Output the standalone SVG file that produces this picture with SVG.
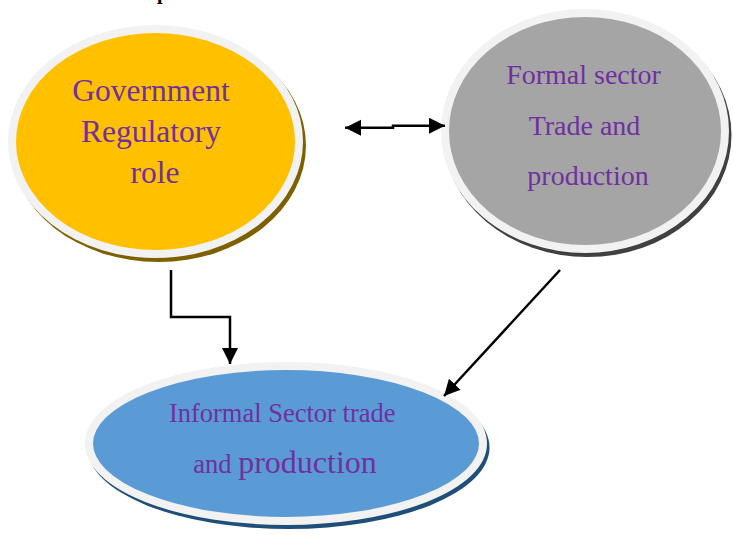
<svg xmlns="http://www.w3.org/2000/svg" width="733" height="535" viewBox="0 0 733 535">
  <style>
    .ring { stroke: #f2f2f2; stroke-width: 8; }
    .label { font-family: "Liberation Serif", "Times New Roman", serif; fill: #7030a0; text-anchor: middle; }
    .conn { fill: none; stroke: #000; stroke-width: 2.5; }
  </style>
  <defs>
    <marker id="head" markerUnits="userSpaceOnUse" markerWidth="17" markerHeight="17" refX="16" refY="8" orient="auto-start-reverse">
      <path d="M0,0 L16,8 L0,16 z" fill="#000"/>
    </marker>
  </defs>

  <rect width="733" height="535" fill="#fff"/>

  <!-- heading descender cut by the top edge -->
  <text x="157" y="-1" font-family="Liberation Serif, serif" font-weight="bold" font-size="20" fill="#000">p</text>

  <g id="government">
    <ellipse cx="158.5" cy="145.5" rx="147.5" ry="116.5" fill="#7f6000"/>
    <ellipse cx="155.5" cy="141.5" rx="143.5" ry="112.5" fill="#ffc000" class="ring"/>
    <text class="label" font-size="31.5">
      <tspan x="155" y="101">Government</tspan>
      <tspan x="155" y="142">Regulatory</tspan>
      <tspan x="155" y="183">role</tspan>
    </text>
  </g>

  <g id="formal">
    <ellipse cx="587.5" cy="135" rx="144" ry="122" fill="#404040"/>
    <ellipse cx="585" cy="131" rx="140" ry="118" fill="#a5a5a5" class="ring"/>
    <text class="label" font-size="28">
      <tspan x="587" y="84">Formal sector</tspan>
      <tspan x="588" y="135">Trade and</tspan>
      <tspan x="588" y="185">production</tspan>
    </text>
  </g>

  <g id="informal">
    <ellipse cx="288.5" cy="447.5" rx="201" ry="81.5" fill="#1f4e79"/>
    <ellipse cx="286" cy="443.5" rx="197" ry="77.5" fill="#5b9bd5" class="ring"/>
    <text class="label" font-size="26.5">
      <tspan x="285.5" y="422">Informal Sector trade</tspan>
      <tspan x="285" y="473">and <tspan font-size="32">production</tspan></tspan>
    </text>
  </g>

  <g id="connectors">
    <path class="conn" d="M345,127.7 H393 V125.7 H445" marker-start="url(#head)" marker-end="url(#head)"/>
    <path class="conn" d="M171,270 V317 H230 V364" marker-end="url(#head)"/>
    <path class="conn" d="M560,270 L444,396" marker-end="url(#head)"/>
  </g>
</svg>
